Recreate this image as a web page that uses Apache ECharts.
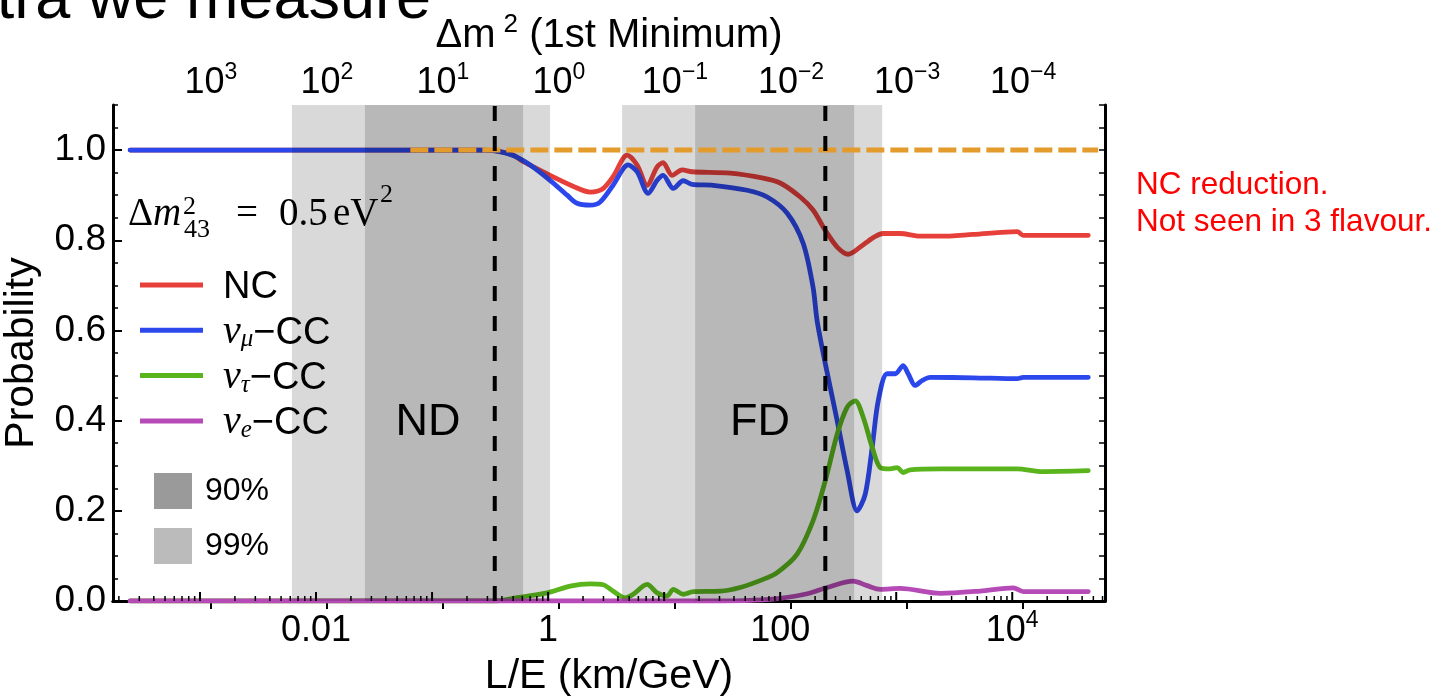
<!DOCTYPE html>
<html>
<head>
<meta charset="utf-8">
<title>Oscillation probabilities vs L/E</title>
<script src="https://cdn.jsdelivr.net/npm/echarts@6/dist/echarts.min.js"></script>
<style>
  html, body { margin: 0; padding: 0; background: #ffffff; }
  #chart { width: 1443px; height: 697px; }
</style>
</head>
<body>
<div id="chart"></div>
<script>
// ---- data: probability vs L/E (km/GeV) ----
const ncCurve = [[2.5e-4,1.0],[0.26,1.0],[0.349,0.999],[0.5,0.989],[0.609,0.975],[1.04,0.944],[1.64,0.92],[2.3,0.907],[2.92,0.913],[3.63,0.941],[4.8,0.989],[5.85,0.967],[7.13,0.922],[8.71,0.963],[9.8,0.972],[11.7,0.944],[14.3,0.956],[17.4,0.952],[37.1,0.949],[71.3,0.938],[100,0.927],[149,0.896],[192,0.867],[245,0.822],[310,0.785],[386,0.769],[490,0.785],[634,0.806],[773,0.815],[1082,0.815],[1611,0.809],[2395,0.809],[4610,0.813],[11050,0.819],[12440,0.811],[45200,0.811]];
const numuCurve = [[2.5e-4,1.0],[0.26,1.0],[0.349,0.998],[0.5,0.988],[0.7,0.967],[1.04,0.933],[1.46,0.9],[1.78,0.882],[2.3,0.878],[2.81,0.885],[3.63,0.922],[4.9,0.967],[5.85,0.952],[7.28,0.904],[8.71,0.933],[9.8,0.944],[12.0,0.915],[14.6,0.932],[17.4,0.924],[26.4,0.922],[52,0.911],[77.3,0.896],[115,0.86],[158,0.793],[192,0.696],[208,0.622],[245,0.526],[310,0.4],[378,0.289],[461,0.2],[541,0.237],[621,0.341],[700,0.444],[836,0.504],[980,0.504],[1148,0.522],[1268,0.504],[1458,0.478],[1675,0.489],[1964,0.496],[4610,0.495],[11050,0.493],[12440,0.496],[45200,0.496]];
const nutauCurve = [[2.5e-4,0],[0.349,0.0],[0.5,0.006],[0.98,0.018],[1.55,0.033],[2.3,0.038],[2.98,0.036],[3.63,0.022],[4.61,0.007],[5.41,0.015],[7.13,0.037],[8.71,0.018],[10.6,0.011],[12.0,0.026],[14.6,0.015],[17.8,0.021],[30.4,0.022],[45.2,0.03],[71.3,0.048],[94.2,0.063],[140,0.104],[192,0.178],[245,0.267],[310,0.37],[378,0.43],[443,0.444],[520,0.407],[621,0.341],[728,0.296],[887,0.293],[1020,0.296],[1148,0.285],[1320,0.291],[2395,0.293],[11050,0.293],[17420,0.287],[45200,0.289]];
const nueCurve = [[2.5e-4,0],[30,0.0],[60,0.002],[100,0.006],[171,0.016],[254,0.03],[426,0.044],[562,0.034],[728,0.026],[1082,0.028],[2395,0.017],[5300,0.022],[10200,0.029],[12440,0.021],[45200,0.021]];
const unitarityLine = [[0.065,1.0],[55000,1.0]];

// detector baselines (L/E of near and far detector)
const ndLE = 0.347;
const fdLE = 245;

// allowed Δm² ranges mapped to L/E, [start, end]
const band99 = [[0.0062,1.04],[4.34,757]];
const band90 = [[0.0264,0.609],[18.5,434]];

// axes
const X_MIN = 1.78e-4, X_MAX = 6.3e4;
const Y_MIN = 0, Y_MAX = 1.1;
const FIRST_MIN = 1.24;           // Δm² (eV²) of 1st minimum = FIRST_MIN / (L/E)
const bottomTickValues = [0.01, 1, 100, 1e4];
const bottomTickText = ['0.01', '1', '100', '10^4'];
const topTickValues = [1e3, 1e2, 1e1, 1, 1e-1, 1e-2, 1e-3, 1e-4];
const topTickText = ['10^3', '10^2', '10^1', '10^0', '10^−1', '10^−2', '10^−3', '10^−4'];
const decadeTicks = [1e-4, 1e-3, 1e-2, 1e-1, 1, 10, 100, 1e3, 1e4];
const minorSteps = [2, 3, 4, 5, 6, 7, 8, 9];

const SANS = '"Liberation Sans", Arial, Helvetica, sans-serif';
const SERIF = '"Liberation Serif", "Times New Roman", serif';
const COLORS = { nc: '#e7403a', numu: '#2c48ec', nutau: '#5ab41c', nue: '#b64ab6', unit: '#e39b2b' };

// tick marks along the bottom axis (decades long, 2..9 short)
const bottomTickMarks = [];
decadeTicks.forEach(d => {
  if (d >= X_MIN && d <= X_MAX) bottomTickMarks.push([d, 1]);
  minorSteps.forEach(m => { const v = d * m; if (v >= X_MIN && v <= X_MAX) bottomTickMarks.push([v, 0]); });
});

function matchTick(v, values) {
  for (let i = 0; i < values.length; i++) {
    if (Math.abs(Math.log10(v) - Math.log10(values[i])) < 1e-6) return i;
  }
  return -1;
}
function powText(t) {
  const k = t.indexOf('^');
  return k < 0 ? '{b|' + t + '}' : '{b|' + t.slice(0, k) + '}{s|' + t.slice(k + 1) + '}';
}
const tickRich = {
  b: { fontSize: 36, fontFamily: SANS, color: '#000', lineHeight: 40, verticalAlign: 'bottom' },
  s: { fontSize: 23, fontFamily: SANS, color: '#000', lineHeight: 23, verticalAlign: 'top' }
};

const legendRich = {
  t: { fontSize: 38, fontFamily: SANS, color: '#000', lineHeight: 44, verticalAlign: 'bottom' },
  g: { fontSize: 40, fontFamily: SERIF, fontStyle: 'italic', color: '#000', lineHeight: 44, verticalAlign: 'bottom' },
  sub: { fontSize: 25, fontFamily: SERIF, fontStyle: 'italic', color: '#000', lineHeight: 24, verticalAlign: 'bottom' }
};
const legendLabels = {
  'NC': '{t|NC}',
  'ν_μ−CC': '{g|ν}{sub|μ}{t|−CC}',
  'ν_τ−CC': '{g|ν}{sub|τ}{t|−CC}',
  'ν_e−CC': '{g|ν}{sub|e}{t|−CC}'
};

function curve(name, data, color) {
  return {
    type: 'line', name, data, z: 2, smooth: 0.3, showSymbol: false, symbol: 'none',
    xAxisIndex: 0, yAxisIndex: 0, silent: true,
    lineStyle: { color, width: 4.8, cap: 'round', join: 'round' },
    itemStyle: { color }
  };
}
function bands(name, data, legendColor) {
  return {
    type: 'custom', name, data, z: 3, silent: true,
    xAxisIndex: 0, yAxisIndex: 0,
    encode: { x: [0, 1] },
    itemStyle: { color: legendColor },
    renderItem(params, api) {
      const p0 = api.coord([api.value(0), Y_MAX]);
      const p1 = api.coord([api.value(1), Y_MIN]);
      return {
        type: 'rect',
        shape: { x: p0[0], y: p0[1], width: p1[0] - p0[0], height: p1[1] - p0[1] },
        style: { fill: 'rgba(0,0,0,0.15)' }
      };
    }
  };
}
function detectorLine(le) {
  return {
    type: 'line', data: [[le, Y_MIN], [le, Y_MAX]], z: 4, silent: true, showSymbol: false, symbol: 'none',
    lineStyle: { color: '#000', width: 4, type: [15, 15] }
  };
}

const chart = echarts.init(document.getElementById('chart'), null, { renderer: 'canvas' });

chart.setOption({
  animation: false,
  backgroundColor: '#ffffff',
  grid: { left: 113, right: 338, top: 105, bottom: 96, containLabel: false, outerBoundsMode: 'none' },
  xAxis: [
    {
      type: 'log', logBase: 10, min: X_MIN, max: X_MAX, position: 'bottom',
      axisLine: { show: true, lineStyle: { color: '#000', width: 3 } },
      axisTick: { show: false },
      splitLine: { show: false },
      axisLabel: {
        margin: 8, showMinLabel: false, showMaxLabel: false, rich: tickRich,
        formatter: v => { const i = matchTick(v, bottomTickValues); return i < 0 ? '' : powText(bottomTickText[i]); }
      },
      name: 'L/E (km/GeV)', nameLocation: 'middle', nameGap: 46,
      nameTextStyle: { fontSize: 41, fontFamily: SANS, color: '#000', lineHeight: 46 }
    },
    {
      type: 'log', logBase: 10, min: FIRST_MIN / X_MAX, max: FIRST_MIN / X_MIN, inverse: true, position: 'top',
      axisLine: { show: true, lineStyle: { color: '#000', width: 3 } },
      axisTick: { show: true, inside: true, length: 8, lineStyle: { color: '#000', width: 2 } },
      splitLine: { show: false },
      axisLabel: {
        margin: 4, showMinLabel: false, showMaxLabel: false, rich: tickRich,
        formatter: v => { const i = matchTick(v, topTickValues); return i < 0 ? '' : powText(topTickText[i]); }
      },
      name: '{t|Δm}{s|2}{t| (1st Minimum)}', nameLocation: 'middle', nameGap: 47,
      nameTextStyle: {
        color: '#000', lineHeight: 44,
        rich: {
          t: { fontSize: 40, fontFamily: SANS, color: '#000', lineHeight: 44, verticalAlign: 'bottom' },
          s: { fontSize: 26, fontFamily: SANS, color: '#000', lineHeight: 25, verticalAlign: 'top', padding: [0, 0, 0, 8] }
        }
      }
    }
  ],
  yAxis: [
    {
      type: 'value', min: Y_MIN, max: Y_MAX, interval: 0.2, position: 'left',
      axisLine: { show: true, lineStyle: { color: '#000', width: 3 } },
      axisTick: { show: true, inside: true, length: 9, lineStyle: { color: '#000', width: 2 } },
      splitLine: { show: false },
      axisLabel: { fontSize: 37, fontFamily: SANS, color: '#000', margin: 7, showMaxLabel: false, formatter: v => v.toFixed(1) },
      name: 'Probability', nameLocation: 'middle', nameGap: 53,
      nameTextStyle: { fontSize: 41, fontFamily: SANS, color: '#000', lineHeight: 44 }
    },
    {
      type: 'value', min: Y_MIN, max: Y_MAX, interval: 0.05, position: 'right',
      axisLine: { show: true, lineStyle: { color: '#000', width: 3 } },
      axisTick: { show: true, inside: true, length: 6, lineStyle: { color: '#000', width: 1.5 } },
      splitLine: { show: false }, axisLabel: { show: false }
    },
    {
      type: 'value', min: Y_MIN, max: Y_MAX, interval: 0.05, position: 'left',
      axisLine: { show: false },
      axisTick: { show: true, inside: true, length: 5, lineStyle: { color: '#000', width: 1.5 } },
      splitLine: { show: false }, axisLabel: { show: false }
    }
  ],
  legend: [
    {
      data: ['NC', 'ν_μ−CC', 'ν_τ−CC', 'ν_e−CC'],
      orient: 'vertical', left: 140, top: 263, padding: 0,
      icon: 'rect', itemWidth: 63, itemHeight: 5, itemGap: 1.3,
      selectedMode: false,
      formatter: name => legendLabels[name],
      textStyle: { rich: legendRich, lineHeight: 44, padding: [0, 0, 0, 15] }
    },
    {
      data: ['90%', '99%'],
      orient: 'vertical', left: 154, top: 473, padding: 0,
      icon: 'rect', itemWidth: 38, itemHeight: 36, itemGap: 19,
      selectedMode: false,
      textStyle: { fontSize: 32, fontFamily: SANS, color: '#000', lineHeight: 36, padding: [0, 0, 0, 8] }
    }
  ],
  series: [
    curve('NC', ncCurve, COLORS.nc),
    curve('ν_μ−CC', numuCurve, COLORS.numu),
    curve('ν_τ−CC', nutauCurve, COLORS.nutau),
    curve('ν_e−CC', nueCurve, COLORS.nue),
    bands('99%', band99, '#bbbbbb'),
    bands('90%', band90, '#9a9a9a'),
    {
      type: 'line', data: unitarityLine, z: 4, silent: true, showSymbol: false, symbol: 'none',
      lineStyle: { color: COLORS.unit, width: 5, type: [18, 6] }
    },
    detectorLine(ndLE),
    detectorLine(fdLE),
    {
      type: 'custom', data: bottomTickMarks, z: 5, silent: true,
      xAxisIndex: 0, yAxisIndex: 0,
      renderItem(params, api) {
        const p = api.coord([api.value(0), Y_MIN]);
        const len = api.value(1) ? 9 : 5;
        return {
          type: 'line',
          shape: { x1: p[0], y1: p[1], x2: p[0], y2: p[1] - len },
          style: { stroke: '#000', lineWidth: api.value(1) ? 2 : 1.5 }
        };
      }
    }
  ],
  graphic: [
    { type: 'text', x: 431, y: 1, z: 10, style: { text: 'ctra we measure', fontSize: 63, fontFamily: SANS, fill: '#000', align: 'right', verticalAlign: 'middle' } },
    { type: 'text', x: 1136, y: 185, z: 10, style: { text: 'NC reduction.', fontSize: 31.5, fontFamily: SANS, fill: '#ff0000', align: 'left', verticalAlign: 'middle' } },
    { type: 'text', x: 1136, y: 222, z: 10, style: { text: 'Not seen in 3 flavour.', fontSize: 31.5, fontFamily: SANS, fill: '#ff0000', align: 'left', verticalAlign: 'middle' } },
    { type: 'text', x: 428, y: 423, z: 10, style: { text: 'ND', fontSize: 45, fontFamily: SANS, fill: '#000', align: 'center', verticalAlign: 'middle' } },
    { type: 'text', x: 760, y: 423, z: 10, style: { text: 'FD', fontSize: 45, fontFamily: SANS, fill: '#000', align: 'center', verticalAlign: 'middle' } },
    // Δm²₄₃ = 0.5 eV²
    { type: 'text', x: 128, y: 215, z: 10, style: { text: 'Δ', fontSize: 39, fontFamily: SERIF, fill: '#000', align: 'left', verticalAlign: 'middle' } },
    { type: 'text', x: 153, y: 215, z: 10, style: { text: 'm', fontSize: 39, fontFamily: SERIF, fontStyle: 'italic', fill: '#000', align: 'left', verticalAlign: 'middle' } },
    { type: 'text', x: 183, y: 207, z: 10, style: { text: '2', fontSize: 26, fontFamily: SERIF, fill: '#000', align: 'left', verticalAlign: 'middle' } },
    { type: 'text', x: 184, y: 230, z: 10, style: { text: '43', fontSize: 26, fontFamily: SERIF, fill: '#000', align: 'left', verticalAlign: 'middle' } },
    { type: 'text', x: 236, y: 215, z: 10, style: { text: '=', fontSize: 39, fontFamily: SERIF, fill: '#000', align: 'left', verticalAlign: 'middle' } },
    { type: 'text', x: 279, y: 215, z: 10, style: { text: '0.5', fontSize: 39, fontFamily: SERIF, fill: '#000', align: 'left', verticalAlign: 'middle' } },
    { type: 'text', x: 333, y: 215, z: 10, style: { text: 'eV', fontSize: 39, fontFamily: SERIF, fill: '#000', align: 'left', verticalAlign: 'middle' } },
    { type: 'text', x: 380, y: 195, z: 10, style: { text: '2', fontSize: 26, fontFamily: SERIF, fill: '#000', align: 'left', verticalAlign: 'middle' } }
  ]
});
</script>
</body>
</html>
